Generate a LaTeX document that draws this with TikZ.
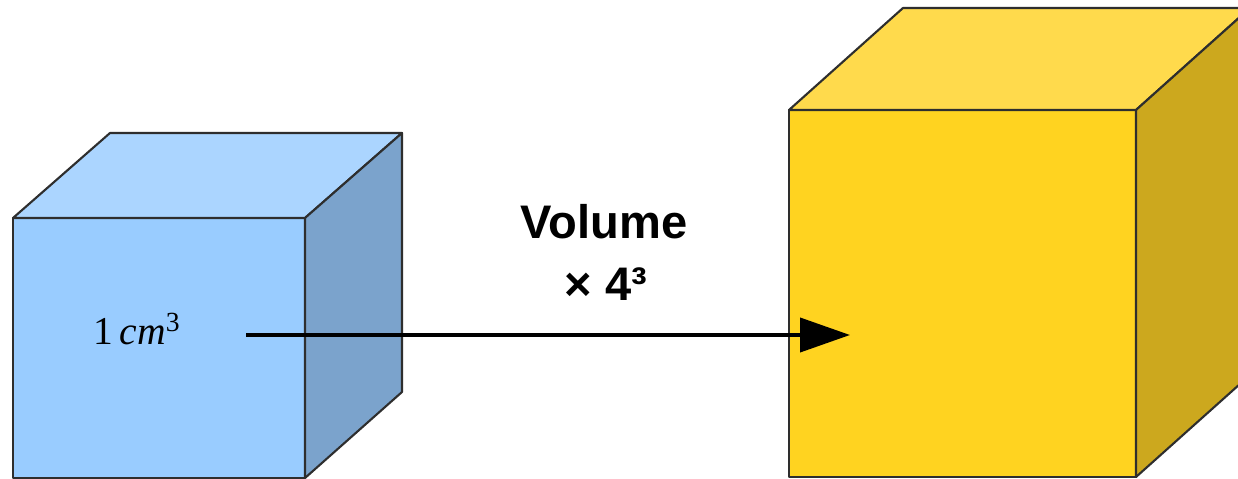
\documentclass[tikz,border=0pt]{standalone}
\usepackage{fontspec}
\setmainfont{Liberation Sans}
\newfontfamily\timesfont{Liberation Serif}
\usetikzlibrary{arrows.meta, positioning}

\definecolor{smallfront}{HTML}{99CCFF}
\definecolor{smalltop}{HTML}{ABD5FF}
\definecolor{smallside}{HTML}{7BA3CC}
\definecolor{bigfront}{HTML}{FFD320}
\definecolor{bigtop}{HTML}{FFDA4C}
\definecolor{bigside}{HTML}{CCA81E}
\definecolor{edgegray}{HTML}{2E2E2E}

\tikzset{
  face/.style={draw=edgegray, line width=1.2pt, line join=round},
  bigtext/.style={font=\bfseries\fontsize{26.8}{32}\selectfont, inner sep=0pt},
  unittext/.style={font=\timesfont\fontsize{22.5}{27}\selectfont, inner sep=0pt},
  growth/.style={line width=0.08cm, -{Triangle[length=1cm, width=0.68cm]}}
}

\begin{document}
\begin{tikzpicture}[x=0.02cm, y=-0.02cm]
\useasboundingbox (0,0) rectangle (1238,479);
\clip (0,0) rectangle (1238,479);

% small cube
\fill[white] (0,0) rectangle (1238,479);
\draw[face, fill=smallfront] (13,218) rectangle (305,478);
\draw[face, fill=smalltop] (13,218) -- (110,133) -- (402,133) -- (305,218) -- cycle;
\draw[face, fill=smallside] (305,218) -- (402,133) -- (402,392) -- (305,478) -- cycle;

% big cube
\draw[face, fill=bigfront] (789,110) rectangle (1136,477);
\draw[face, fill=bigtop] (789,110) -- (903,8) -- (1250,8) -- (1136,110) -- cycle;
\draw[face, fill=bigside] (1136,110) -- (1250,8) -- (1250,375) -- (1136,477) -- cycle;

\node[unittext] (unit) at (137,329) {1\,\textit{cm}\textsuperscript{3}};

\node[bigtext] (vol) at (604,222) {Volume};
\node[bigtext] (factor) at (606,284) {× 4³};

\coordinate (from) at (246,335);
\coordinate (to) at (850,335);
\draw[growth] (from) -- (to);
\end{tikzpicture}
\end{document}
